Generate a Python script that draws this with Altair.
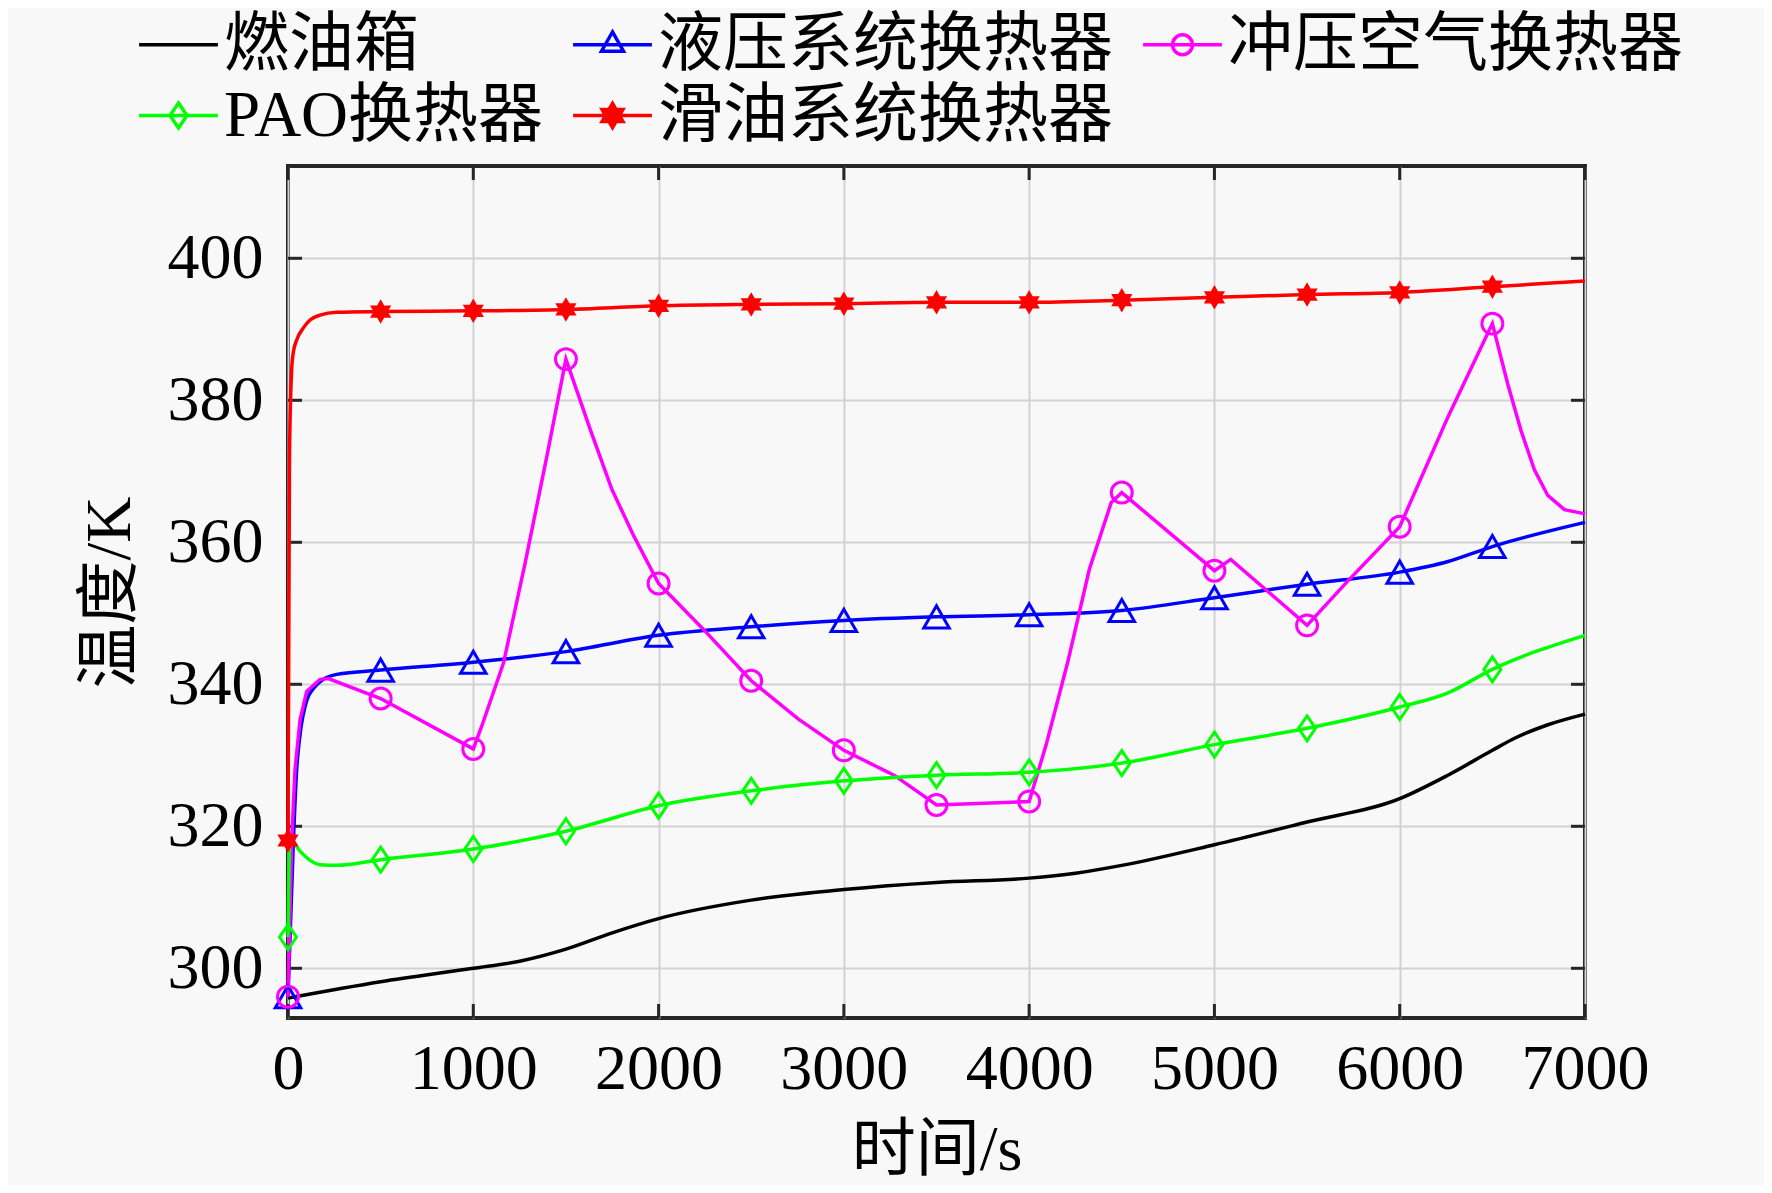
import altair as alt
import pandas as pd

# ---------------- data ----------------
SERIES = ["燃油箱", "液压系统换热器", "冲压空气换热器", "PAO换热器", "滑油系统换热器"]
COLORS = ["#000000", "#0000ff", "#ff00ff", "#00ff00", "#ff0000"]

FUEL_T = [0, 500, 1000, 1250, 1500, 1750, 2000, 2500, 3000, 3500, 4000, 4250, 4500,
          5000, 5500, 6000, 6260, 6500, 6620, 6800, 7000]
FUEL_K = [295.8, 298.1, 300.0, 301.0, 302.7, 305.0, 307.0, 309.6, 311.1, 312.1, 312.7, 313.4, 314.5,
          317.4, 320.6, 323.9, 327.2, 330.7, 332.4, 334.3, 335.8]

HYD_T = [0, 29, 47, 65, 101, 137, 191, 263, 500, 1000, 1500, 2000, 2500, 3000, 3500, 4000,
         4500, 5000, 5500, 6000, 6261, 6500, 7000]
HYD_K = [296.0, 317.9, 328.0, 332.9, 337.7, 339.4, 340.7, 341.4, 342.0, 343.1, 344.6, 346.9, 348.1,
         349.0, 349.5, 349.8, 350.4, 352.2, 354.1, 355.8, 357.3, 359.4, 362.8]

RAM_T = [0, 20, 38, 65, 101, 173, 218, 500, 1000, 1047, 1163, 1280, 1397, 1500, 1631, 1749, 1866,
         2000, 2240, 2500, 2755, 3000, 3271, 3500, 4000, 4091, 4208, 4325, 4443, 4500, 5000, 5088,
         5500, 5718, 6000, 6261, 6500, 6583, 6655, 6727, 6799, 6889, 7000]
RAM_K = [296.0, 317.9, 328.0, 335.0, 339.0, 340.7, 340.8, 338.0, 330.9, 334.2, 343.0, 357.1, 372.1,
         385.8, 375.9, 367.4, 360.9, 354.2, 347.8, 340.5, 335.1, 330.7, 327.2, 323.0, 323.5, 331.4,
         343.1, 356.2, 365.6, 367.0, 356.0, 357.6, 348.3, 354.5, 362.2, 377.7, 390.8, 382.3, 375.7,
         370.2, 366.6, 364.6, 364.0]

PAO_T = [0, 10, 65, 119, 173, 263, 500, 1000, 1500, 2000, 2500, 3000, 3500, 4000, 4500, 5000,
         5500, 6000, 6261, 6500, 7000]
PAO_K = [304.4, 318.2, 316.5, 315.2, 314.6, 314.5, 315.3, 316.8, 319.3, 322.9, 325.0, 326.4, 327.2,
         327.6, 328.9, 331.5, 333.8, 336.8, 338.8, 342.1, 346.9]

LUBE_T = [0, 8, 20, 29, 47, 83, 119, 173, 263, 500, 1000, 1500, 2000, 2500, 3000, 3500, 4000,
          4500, 5000, 5500, 6000, 6500, 7000]
LUBE_K = [318.0, 372.0, 384.5, 386.8, 388.5, 390.2, 391.3, 392.0, 392.4, 392.5, 392.6, 392.8, 393.3,
          393.5, 393.6, 393.8, 393.8, 394.1, 394.5, 394.9, 395.2, 396.0, 396.8]

X_TICKS = [0, 1000, 2000, 3000, 4000, 5000, 6000, 7000]
Y_TICKS = [300, 320, 340, 360, 380, 400]

# ---------------- table ----------------
rows = []
for name, ts, ks in zip(SERIES, [FUEL_T, HYD_T, RAM_T, PAO_T, LUBE_T],
                        [FUEL_K, HYD_K, RAM_K, PAO_K, LUBE_K]):
    for t, k in zip(ts, ks):
        rows.append({"series": name, "t": t, "k": k})
df = pd.DataFrame(rows)

# ---------------- styling ----------------
W, H = 1297, 852
SERIF = "Liberation Serif, Noto Sans CJK SC"
FRAME = "#262626"
COLOR_OF = dict(zip(SERIES, COLORS))


def hex_path(s):
    pts = [(0, -1), (0.289, -0.5), (0.866, -0.5), (0.577, 0), (0.866, 0.5), (0.289, 0.5),
           (0, 1), (-0.289, 0.5), (-0.866, 0.5), (-0.577, 0), (-0.866, -0.5), (-0.289, -0.5)]
    return "M" + "L".join(f"{x * s:.3f},{y * s:.3f}" for x, y in pts) + "Z"


HEX = hex_path(1.0)
DIAMOND = "M0,-1L0.68,0L0,1L-0.68,0Z"

LINE = "M-1.11,0L1.11,0"
LEGEND_SHAPES = [
    LINE,
    LINE + "M0,-0.36L0.31,0.18L-0.31,0.18Z",
    LINE + "M0.28,0A0.28,0.28,0,1,1,-0.28,0A0.28,0.28,0,1,1,0.28,0Z",
    LINE + "M0,-0.35L0.24,0L0,0.35L-0.24,0Z",
    LINE + hex_path(0.34),
]
LEGEND_FILLS = ["transparent", "transparent", "transparent", "transparent", "#ff0000"]

color_scale = alt.Scale(domain=SERIES, range=COLORS)

x_axis = alt.Axis(values=X_TICKS, format="d", title="时间/s", ticks=False, domain=False, grid=True,
                  labelPadding=19, labelFlush=False, labelOverlap=False,
                  titleY=132, titleBaseline="middle")
y_axis = alt.Axis(values=Y_TICKS, format="d", title="温度/K", ticks=False, domain=False, grid=True,
                  labelPadding=25, labelOverlap=False,
                  titleX=-178, titleY=426, titleBaseline="middle", titleAlign="center")

X = alt.X("t:Q", scale=alt.Scale(domain=[0, 7000], nice=False, zero=False), axis=x_axis)
Y = alt.Y("k:Q", scale=alt.Scale(domain=[293, 413], nice=False, zero=False), axis=y_axis)

leg = alt.Legend(title=None, orient="none", legendX=-147, legendY=-159, columns=3,
                 direction="horizontal",
                 labelFont=SERIF, labelFontSize=65, labelColor="black", labelLimit=2000,
                 symbolSize=5041, symbolStrokeWidth=3.5, labelOffset=8,
                 columnPadding=22, rowPadding=0, padding=0)

COLOR = alt.Color("series:N", scale=color_scale, legend=leg)

base = alt.Chart(df)


def only(name):
    return alt.FieldEqualPredicate(field="series", equal=name)


# legend-only layer (no marks drawn): symbols are line + marker, as in the original
legend_layer = (
    base.transform_filter("false")
    .mark_point(filled=False, strokeWidth=3.5, opacity=1)
    .encode(
        x=X, y=Y,
        color=COLOR,
        shape=alt.Shape("series:N", scale=alt.Scale(domain=SERIES, range=LEGEND_SHAPES), legend=leg),
        fill=alt.Fill("series:N", scale=alt.Scale(domain=SERIES, range=LEGEND_FILLS), legend=leg),
    )
)

line_layers = []
for name in SERIES:
    interp = "linear" if name == "冲压空气换热器" else "monotone"
    line_layers.append(
        base.transform_filter(only(name))
        .mark_line(interpolate=interp, strokeWidth=3.5)
        .encode(x=X, y=Y, color=COLOR)
    )

MARKERS = {
    "液压系统换热器": dict(shape="triangle-up", size=650, filled=False),
    "冲压空气换热器": dict(shape="circle", size=440, filled=False),
    "PAO换热器": dict(shape=DIAMOND, size=625, filled=False),
    "滑油系统换热器": dict(shape=HEX, size=600, filled=True),
}
marker_layers = []
for name in SERIES:
    if name not in MARKERS:
        continue
    m = MARKERS[name]
    marker_layers.append(
        base.transform_filter(only(name))
        .transform_filter("datum.t % 500 === 0 && datum.t <= 6500")
        .mark_point(shape=m["shape"], size=m["size"], filled=m["filled"], strokeWidth=3,
                    opacity=1, color=COLOR_OF[name])
        .encode(x=X, y=Y)
    )

# inward tick marks on all four sides (positions through the scales)
xt = alt.Chart(pd.DataFrame({"t": X_TICKS}))
yt = alt.Chart(pd.DataFrame({"k": Y_TICKS}))
tick_style = dict(color=FRAME, strokeWidth=3)
tick_layers = [
    xt.mark_rule(**tick_style).encode(x=X, y=alt.value(H), y2=alt.value(H - 14)),
    xt.mark_rule(**tick_style).encode(x=X, y=alt.value(0), y2=alt.value(14)),
    yt.mark_rule(**tick_style).encode(y=Y, x=alt.value(0), x2=alt.value(14)),
    yt.mark_rule(**tick_style).encode(y=Y, x=alt.value(W), x2=alt.value(W - 14)),
]

chart = (
    alt.layer(legend_layer, *tick_layers, *line_layers, *marker_layers)
    .properties(
        width=W, height=H,
        autosize=alt.AutoSizeParams(type="none"),
        padding={"left": 280, "top": 158, "right": 179, "bottom": 167},
        background="#f8f8f8",
    )
    .configure_view(stroke=FRAME, strokeWidth=4)
    .configure_axis(
        gridColor="#d2d2d2", gridWidth=2, gridOpacity=1,
        labelFont=SERIF, labelFontSize=64, labelColor="black",
        titleFont=SERIF, titleFontSize=64, titleColor="black", titleFontWeight="normal",
    )
)

chart.save("out.html", embed_options={"renderer": "svg", "actions": False})
